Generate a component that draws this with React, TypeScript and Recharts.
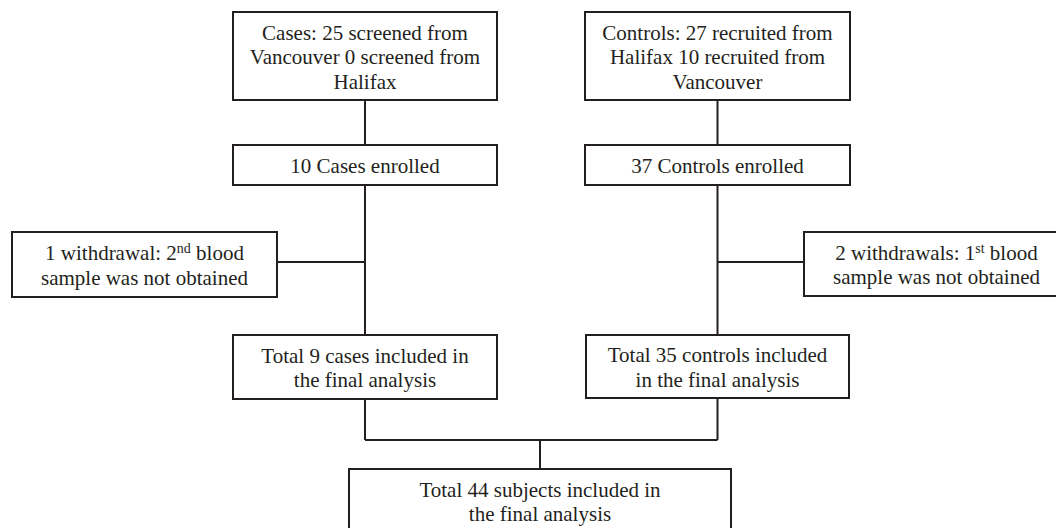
import { ScatterChart, Scatter, XAxis, YAxis, ReferenceLine } from 'recharts'

/**
 * Study flowchart: cases / controls screening, enrolment and analysis
 * Boxes are scatter points with a custom shape, connectors are reference segments
 */

// box texts, one entry per line, ^x^ = superscript
const BOX_TEXT = [
  ['Cases: 25 screened from', 'Vancouver 0 screened from', 'Halifax'],
  ['Controls: 27 recruited from', 'Halifax 10 recruited from', 'Vancouver'],
  ['10 Cases enrolled'],
  ['37 Controls enrolled'],
  ['1 withdrawal: 2^nd^ blood', 'sample was not obtained'],
  ['2 withdrawals: 1^st^ blood', 'sample was not obtained'],
  ['Total 9 cases included in', 'the final analysis'],
  ['Total 35 controls included', 'in the final analysis'],
  ['Total 44 subjects included in', 'the final analysis'],
]

// layout of the boxes (centre x, centre y, width, height) in diagram units
const BOX_X = [365, 717.5, 365, 717.5, 144.5, 936.5, 365, 717.5, 540]
const BOX_Y = [56, 56, 165, 165, 264.5, 264, 367, 366.5, 501]
const BOX_W = [264, 265, 264, 265, 265, 265, 264, 263, 382]
const BOX_H = [88, 88, 40, 40, 65, 64, 64, 63, 64]

// connector segments [x1, y1, x2, y2]
const LINKS = [
  [365, 100, 365, 145],
  [717.5, 100, 717.5, 145],
  [365, 185, 365, 335],
  [717.5, 185, 717.5, 335],
  [277, 262, 365, 262],
  [717.5, 262, 804, 262],
  [365, 399, 365, 440],
  [717.5, 398, 717.5, 440],
  [365, 440, 717.5, 440],
  [540, 440, 540, 469],
]

const W = 1056
const H = 528
const INK = '#231f20'
const FONT = 'Liberation Serif, Times New Roman, serif'

const boxes = BOX_TEXT.map((lines, i) => ({
  x: BOX_X[i],
  y: BOX_Y[i],
  w: BOX_W[i],
  h: BOX_H[i],
  lines,
}))

function renderLine(line: string) {
  const parts = line.split('^')
  const out: any[] = []
  let shifted = false
  parts.forEach((p, k) => {
    if (!p) return
    if (k % 2 === 1) {
      out.push(
        <tspan key={k} dy={-7} style={{ fontSize: 14 }}>
          {p}
        </tspan>
      )
      shifted = true
    } else if (shifted) {
      out.push(
        <tspan key={k} dy={7}>
          {p}
        </tspan>
      )
      shifted = false
    } else {
      out.push(<tspan key={k}>{p}</tspan>)
    }
  })
  return out
}

function BoxShape(props: any) {
  const { cx, cy, payload } = props
  if (cx == null || cy == null) return null
  const { w, h, lines } = payload
  const n = lines.length
  return (
    <g>
      <rect x={cx - w / 2} y={cy - h / 2} width={w} height={h} fill="#fff" stroke={INK} strokeWidth={2} />
      {lines.map((line: string, i: number) => (
        <text
          key={i}
          x={cx}
          y={cy + 8 + (i - (n - 1) / 2) * 24.5}
          textAnchor="middle"
          style={{ fontFamily: FONT, fontSize: 21, fill: INK }}
        >
          {renderLine(line)}
        </text>
      ))}
    </g>
  )
}

export default function App() {
  return (
    <div style={{ position: 'absolute', left: 0, top: 0, width: W, height: H, background: '#fff', fontFamily: FONT }}>
      <ScatterChart width={W} height={H} margin={{ top: 0, right: 0, bottom: 0, left: 0 }}>
        <XAxis type="number" dataKey="x" domain={[0, W]} hide />
        <YAxis type="number" dataKey="y" domain={[0, H]} reversed hide />
        {LINKS.map((s, i) => (
          <ReferenceLine
            key={i}
            segment={[
              { x: s[0], y: s[1] },
              { x: s[2], y: s[3] },
            ]}
            stroke={INK}
            strokeWidth={2}
            ifOverflow="visible"
          />
        ))}
        <Scatter data={boxes} shape={BoxShape} isAnimationActive={false} />
      </ScatterChart>
    </div>
  )
}
